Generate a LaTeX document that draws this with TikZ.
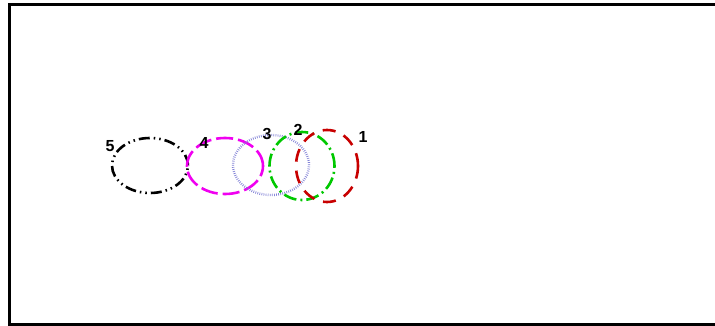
\documentclass[tikz,border=0pt]{standalone}
\usepackage{fontspec}
\setmainfont{Liberation Sans}
\usetikzlibrary{shapes.geometric}
\tikzset{
  ell/.style={ellipse, draw, inner sep=0pt, line width=2.6pt},
  lbl/.style={font=\bfseries\fontsize{16}{16}\selectfont, inner sep=0pt, anchor=center},
}
\begin{document}
\begin{tikzpicture}[x=1pt,y=-1pt]
\useasboundingbox (0,0) rectangle (715,326);
\fill[white] (0,0) rectangle (715,326);
\draw[line width=3pt] (9,326) -- (9,4.5) -- (716,4.5);
\draw[line width=3pt] (9,324.5) -- (716,324.5);
\node[ell, draw=black, minimum width=76pt, minimum height=55pt, dash pattern=on 11pt off 4pt on 1.5pt off 4pt on 1.5pt off 4pt] (e5) at (150,165.5) {};
\node[ell, draw={rgb,255:red,240;green,0;blue,240}, minimum width=76pt, minimum height=56pt, dash pattern=on 17pt off 5pt] (e4) at (225,166) {};
\node[ell, draw={rgb,255:red,130;green,130;blue,215}, line width=2.4pt, minimum width=76pt, minimum height=60pt, dash pattern=on 0.7pt off 1.4pt] (e3) at (271,165) {};
\node[ell, draw={rgb,255:red,0;green,200;blue,0}, minimum width=65pt, minimum height=68pt, dash pattern=on 13pt off 4pt on 2pt off 4pt] (e2) at (302,166) {};
\node[ell, draw={rgb,255:red,200;green,0;blue,0}, minimum width=62pt, minimum height=72pt, dash pattern=on 13pt off 9pt] (e1) at (327,166) {};
\node[lbl] (l5) at (110,146) {5};
\node[lbl] (l4) at (204,143) {4};
\node[lbl] (l3) at (267,134) {3};
\node[lbl] (l2) at (298,130) {2};
\node[lbl] (l1) at (363,137) {1};
\end{tikzpicture}
\end{document}
